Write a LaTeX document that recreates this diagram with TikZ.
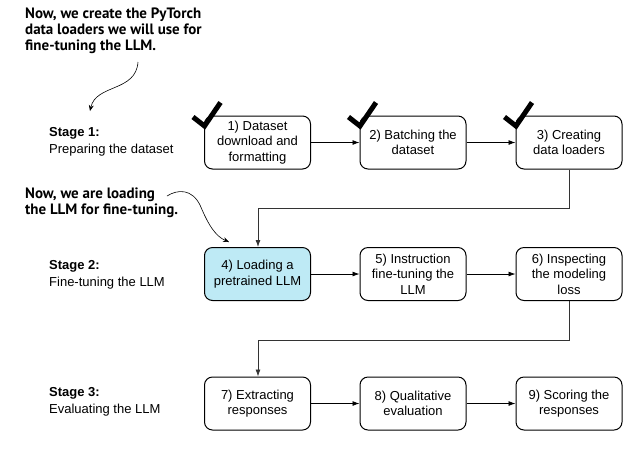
\documentclass[tikz,border=0pt]{standalone}
\usepackage{fontspec}
\setmainfont{Liberation Sans}
\newfontfamily\annfont{PT Sans}
\usetikzlibrary{arrows.meta}
\definecolor{boxcyan}{RGB}{190,234,245}
\begin{document}
\begin{tikzpicture}[x=1pt,y=-1pt,
  stepbox/.style={draw=black,line width=1pt,rounded corners=8pt,minimum width=106pt,minimum height=53pt,
    align=center,inner sep=0pt,font=\fontsize{13}{15.5}\selectfont},
  flow/.style={line width=0.8pt,-{Latex[length=7pt,width=5pt]}},
  route/.style={line width=0.8pt,draw=black!80,-{Latex[length=7pt,width=5pt]}},
  tick/.style={line width=5pt,line cap=butt,line join=miter},
  stagelbl/.style={anchor=west,align=left,inner sep=0pt,font=\fontsize{13}{17}\selectfont},
  ann/.style={anchor=north west,align=left,inner sep=0pt,font=\annfont\bfseries\fontsize{15}{16}\selectfont},
  curvearrow/.style={line width=0.6pt,-{Stealth[length=6pt,width=5pt]}}
]
\useasboundingbox (0,0) rectangle (642,451);

% stage labels
\node[stagelbl] (s1) at (49,141.5) {\textbf{Stage 1:}\\Preparing the dataset};
\node[stagelbl] (s2) at (49,274.5) {\textbf{Stage 2:}\\Fine-tuning the LLM};
\node[stagelbl] (s3) at (49,401.5) {\textbf{Stage 3:}\\Evaluating the LLM};

% boxes
\node[stepbox] (b1) at (257.5,142.5) {1) Dataset\\download and\\formatting};
\node[stepbox] (b2) at (413,142.5) {2) Batching the\\dataset};
\node[stepbox] (b3) at (569,142.5) {3) Creating\\data loaders};
\node[stepbox,fill=boxcyan] (b4) at (257.5,274) {4) Loading a\\pretrained LLM};
\node[stepbox] (b5) at (413,274) {5) Instruction\\fine-tuning the\\LLM};
\node[stepbox] (b6) at (569,274) {6) Inspecting\\the modeling\\loss};
\node[stepbox] (b7) at (257.5,403.5) {7) Extracting\\responses};
\node[stepbox] (b8) at (413,403.5) {8) Qualitative\\evaluation};
\node[stepbox] (b9) at (569,403.5) {9) Scoring the\\responses};

% connectors
\draw[flow] (b1) -- (b2);
\draw[flow] (b2) -- (b3);
\draw[flow] (b4) -- (b5);
\draw[flow] (b5) -- (b6);
\draw[flow] (b7) -- (b8);
\draw[flow] (b8) -- (b9);
\coordinate (r1a) at (569,208);
\coordinate (r1b) at (258,208);
\draw[route] (b3.south) -- (r1a) -- (r1b) -- (b4.north -| r1b);
\coordinate (r2a) at (569,340);
\coordinate (r2b) at (258,340);
\draw[route] (b6.south) -- (r2a) -- (r2b) -- (b7.north -| r2b);

% check marks
\foreach \b/\dx in {b1/0,b2/155.5,b3/311.5}{
  \draw[tick] ([xshift=\dx pt]193,117) -- ([xshift=\dx pt]204.5,126) -- ([xshift=\dx pt]220.5,102.5);
}

% annotations
\node[ann] (a1) at (25,8) {Now, we create the PyTorch\\data loaders we will use for\\fine-tuning the LLM.};
\coordinate (a1s) at (138,62);
\coordinate (a1e) at (90,111);
\draw[curvearrow] (a1s) .. controls (136,92) and (96,84) .. (a1e);

\node[ann] (a2) at (25,188) {Now, we are loading\\the LLM for fine-tuning.};
\coordinate (a2s) at (167,196);
\coordinate (a2e) at (229,242);
\draw[curvearrow] (a2s) .. controls (178,189) and (192,189) .. (200,205) .. controls (208,224) and (215,236) .. (a2e);
\end{tikzpicture}
\end{document}
